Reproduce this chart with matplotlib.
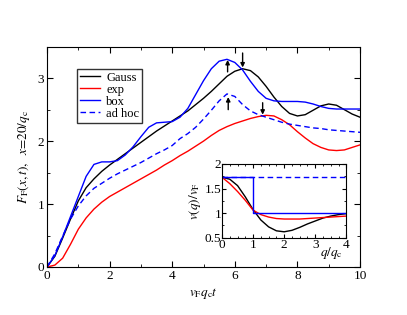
import numpy as np
import matplotlib
matplotlib.use("Agg")
import matplotlib.pyplot as plt
from matplotlib.ticker import MultipleLocator, FormatStrFormatter

plt.rcParams['font.family'] = ['Liberation Serif', 'DejaVu Serif']
plt.rcParams['mathtext.fontset'] = 'stix'

# main panel: F_F(x,t) vs v_F q_c t
t = [0, 0.25, 0.5, 0.75, 1.0, 1.25, 1.5, 1.75, 2.0, 2.25, 2.5, 2.75, 3.0, 3.25, 3.5,
     3.75, 4.0, 4.25, 4.5, 4.75, 5.0, 5.25, 5.5, 5.75, 6.0, 6.25, 6.5, 6.75, 7.0, 7.25,
     7.5, 7.75, 8.0, 8.25, 8.5, 8.75, 9.0, 9.25, 9.5, 9.75, 10.0]
gauss = [0, 0.17, 0.46, 0.76, 1.05, 1.26, 1.40, 1.52, 1.62, 1.71, 1.80, 1.89, 1.98, 2.07, 2.16,
         2.24, 2.32, 2.40, 2.48, 2.58, 2.68, 2.79, 2.91, 3.03, 3.11, 3.15, 3.12, 3.02, 2.87, 2.70,
         2.55, 2.44, 2.40, 2.42, 2.49, 2.56, 2.59, 2.57, 2.50, 2.43, 2.38]
expo = [0, 0.03, 0.14, 0.36, 0.60, 0.78, 0.92, 1.03, 1.12, 1.19, 1.26, 1.33, 1.40, 1.47, 1.54,
        1.62, 1.69, 1.77, 1.84, 1.92, 2.00, 2.09, 2.17, 2.23, 2.28, 2.32, 2.36, 2.39, 2.41, 2.40,
        2.34, 2.26, 2.15, 2.05, 1.96, 1.90, 1.86, 1.85, 1.86, 1.90, 1.94]
box = [0, 0.18, 0.48, 0.80, 1.12, 1.44, 1.63, 1.67, 1.67, 1.69, 1.78, 1.91, 2.07, 2.22, 2.29,
       2.30, 2.31, 2.38, 2.52, 2.74, 2.96, 3.15, 3.27, 3.30, 3.25, 3.13, 2.95, 2.79, 2.68, 2.64,
       2.63, 2.63, 2.63, 2.62, 2.59, 2.55, 2.52, 2.51, 2.51, 2.51, 2.51]
adhoc = [0, 0.21, 0.49, 0.76, 0.97, 1.13, 1.25, 1.33, 1.41, 1.48, 1.54, 1.60, 1.66, 1.73, 1.80,
         1.86, 1.93, 2.04, 2.12, 2.22, 2.35, 2.49, 2.64, 2.75, 2.71, 2.58, 2.48, 2.42, 2.38, 2.34,
         2.30, 2.27, 2.25, 2.23, 2.21, 2.20, 2.18, 2.17, 2.16, 2.15, 2.14]

# arrows marking the maxima: (x, y_from, y_to)
arrows = [(5.77, 3.10, 3.29), (6.25, 3.40, 3.17), (5.79, 2.50, 2.70), (6.89, 2.61, 2.42)]

# inset: v(q)/v_F vs q/q_c
q = [0, 0.25, 0.5, 0.75, 1.0, 1.25, 1.5, 1.75, 2.0, 2.25, 2.5, 2.75, 3.0, 3.25, 3.5, 3.75, 4.0]
v_gauss = [1.73, 1.69, 1.56, 1.33, 1.07, 0.86, 0.72, 0.64, 0.62, 0.65, 0.71, 0.78, 0.84,
           0.90, 0.94, 0.97, 0.99]
v_exp = [1.73, 1.60, 1.44, 1.26, 1.06, 0.97, 0.92, 0.89, 0.88, 0.88, 0.88, 0.89, 0.90,
         0.91, 0.92, 0.93, 0.94]
q_box = [0, 1.0, 1.0, 4.0]
v_box = [1.73, 1.73, 1.0, 1.0]
q_adhoc = [0, 4.0]
v_adhoc = [1.73, 1.73]

fig = plt.figure(figsize=(4.07, 3.15), dpi=100)
ax = fig.add_axes([0.1155, 0.1524, 0.769, 0.6993])

ax.plot(t, gauss, color='black', lw=1.0, label='Gauss')
ax.plot(t, expo, color='red', lw=1.0, label='exp')
ax.plot(t, box, color='blue', lw=1.0, label='box')
ax.plot(t, adhoc, color='blue', lw=1.0, ls=(0, (4, 2.5)), label='ad hoc')

for xa, y0, y1 in arrows:
    ax.annotate('', xy=(xa, y1), xytext=(xa, y0),
                arrowprops=dict(arrowstyle='-|>', color='black', lw=1.0,
                                mutation_scale=6, shrinkA=0, shrinkB=0))

ax.set_xlim(0, 10)
ax.set_ylim(0, 3.5)
ax.xaxis.set_major_locator(MultipleLocator(2))
ax.xaxis.set_minor_locator(MultipleLocator(1))
ax.yaxis.set_major_locator(MultipleLocator(1))
ax.yaxis.set_minor_locator(MultipleLocator(0.5))
ax.tick_params(which='both', direction='in', top=True, right=True, labelsize=9.5, pad=2)
ax.tick_params(which='major', length=4)
ax.tick_params(which='minor', length=2)
ax.set_xlabel(r'$v_\mathrm{F}q_\mathrm{c}t$', fontsize=9.5, labelpad=3)
ax.set_ylabel(r'$F_\mathrm{F}(x,t),\ \ x\!=\!20/q_\mathrm{c}$', fontsize=9.5, labelpad=4)

leg = ax.legend(loc='upper left', bbox_to_anchor=(0.095, 0.9), fontsize=9, frameon=True,
                fancybox=False, handlelength=1.6, handletextpad=0.5, labelspacing=0.0,
                borderpad=0.25, borderaxespad=0)
leg.get_frame().set_edgecolor('black')
leg.get_frame().set_linewidth(1.0)

ins = fig.add_axes([0.5455, 0.2454, 0.3054, 0.234])
ins.plot(q, v_gauss, color='black', lw=1.0)
ins.plot(q, v_exp, color='red', lw=1.0)
ins.plot(q_box, v_box, color='blue', lw=1.0)
ins.plot(q_adhoc, v_adhoc, color='blue', lw=1.0, ls=(0, (4, 2.5)))
ins.set_xlim(0, 4)
ins.set_ylim(0.5, 2)
ins.xaxis.set_major_locator(MultipleLocator(1))
ins.xaxis.set_minor_locator(MultipleLocator(0.25))
ins.yaxis.set_major_locator(MultipleLocator(0.5))
ins.yaxis.set_minor_locator(MultipleLocator(0.25))
ins.yaxis.set_major_formatter(FormatStrFormatter('%g'))
ins.tick_params(which='both', direction='in', top=True, right=True, labelsize=9.5, pad=1)
ins.tick_params(axis='y', pad=0.5)
ins.tick_params(which='major', length=3)
ins.tick_params(which='minor', length=1.5)
ins.set_ylabel(r'$v(q)/v_\mathrm{F}$', fontsize=9.5, labelpad=1)
ins.text(0.97, -0.1, r'$q/q_\mathrm{c}$', transform=ins.transAxes, fontsize=9.5,
         ha='right', va='top')

fig.savefig('out.png', dpi=100)
